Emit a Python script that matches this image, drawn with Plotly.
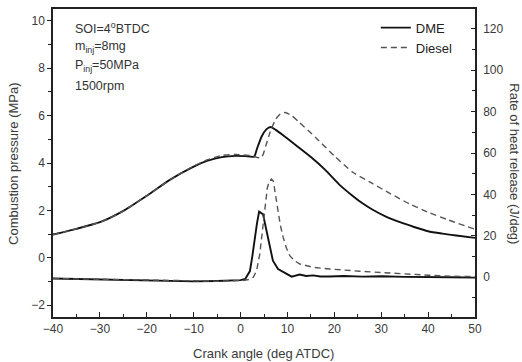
import plotly.graph_objects as go

# ---------------- data ----------------
dme_p_x = [-40, -35, -30, -25, -20, -15, -10, -7, -4, -1, 1, 2.9, 3.5, 4.5, 5.5, 6.4, 7.5,
           9, 12, 15, 18, 21, 24, 26, 28, 31, 34, 37, 40, 43, 46, 50]
dme_p_y = [0.98, 1.22, 1.5, 1.98, 2.62, 3.3, 3.85, 4.1, 4.25, 4.3, 4.29, 4.27, 4.6, 5.12, 5.42, 5.52, 5.4,
           5.18, 4.72, 4.25, 3.72, 3.1, 2.6, 2.3, 2.05, 1.74, 1.5, 1.3, 1.12, 1.02, 0.94, 0.84]

dsl_p_x = [-40, -35, -30, -25, -20, -15, -10, -7, -4, -1, 2, 4.4, 5.5, 6.3, 7.5, 8.5, 9.5,
           11, 12.5, 16, 20, 24, 28, 32, 36, 40, 44, 50]
dsl_p_y = [0.98, 1.22, 1.5, 1.98, 2.62, 3.3, 3.87, 4.14, 4.32, 4.36, 4.32, 4.22, 4.8, 5.3, 5.85, 6.07, 6.13,
           5.98, 5.72, 5.08, 4.3, 3.6, 3.15, 2.7, 2.28, 1.92, 1.62, 1.2]

dme_hrr_x = [-40, -30, -20, -10, -5, 0, 1, 2, 2.5, 3.0, 3.5, 3.96, 4.8, 5.3, 5.9, 6.4, 6.9, 8.0,
             9.4, 10.9, 12.6, 14, 15.5, 17, 19, 22, 26, 30, 35, 40, 45, 50]
dme_hrr_y = [-0.6, -1.0, -1.6, -2.0, -1.8, -1.4, -0.8, 3.0, 10, 19, 26, 31.7, 30.4, 25, 19, 13, 8, 4,
             2.4, 0.3, 1.3, 0.6, 0.9, 0.4, 0.4, 0.6, 0.3, 0.5, 0.2, 0.2, 0.0, -0.2]

dsl_hrr_x = [-40, -30, -20, -10, -5, 0.5, 2, 2.7, 3.4, 4.1, 4.7, 5.2, 5.7, 6.1, 6.6, 7.0, 7.5, 8.0,
             8.5, 9.1, 9.8, 10.5, 11.5, 12.65, 15.5, 19, 25.4, 30, 35, 40, 45, 50]
dsl_hrr_y = [-0.6, -1.0, -1.6, -2.0, -1.9, -1.6, -1.0, 0, 3, 11.2, 24, 35.2, 43, 46.4, 47.5, 46.4, 40, 32,
             25, 19.2, 14, 10.4, 8, 6.4, 4.8, 4.0, 2.9, 2.2, 1.6, 1.0, 0.5, 0.3]

x_ticks = [-40, -30, -20, -10, 0, 10, 20, 30, 40, 50]
p_ticks = [-2, 0, 2, 4, 6, 8, 10]
hrr_ticks = [0, 20, 40, 60, 80, 100, 120]

info_lines = ["SOI=4<sup>o</sup>BTDC", "m<sub>inj</sub>=8mg", "P<sub>inj</sub>=50MPa", "1500rpm"]

# ---------------- figure ----------------
FONT = "Liberation Sans, Arial, sans-serif"
TXT = "#3a3a3a"
solid = dict(color="#111111", width=1.9)
dashed = dict(color="#555555", width=1.4, dash="6px,4px")

fig = go.Figure()
fig.add_trace(go.Scatter(x=dme_p_x, y=dme_p_y, mode="lines", name="DME",
                         line=dict(**solid, shape="spline", smoothing=0.6), yaxis="y"))
fig.add_trace(go.Scatter(x=dsl_p_x, y=dsl_p_y, mode="lines", name="Diesel",
                         line=dict(**dashed, shape="spline", smoothing=0.6), yaxis="y"))
fig.add_trace(go.Scatter(x=dme_hrr_x, y=dme_hrr_y, mode="lines", showlegend=False, line=solid, yaxis="y2"))
fig.add_trace(go.Scatter(x=dsl_hrr_x, y=dsl_hrr_y, mode="lines", showlegend=False, line=dashed, yaxis="y2"))

axcommon = dict(showgrid=False, zeroline=False, showline=True, linecolor="#222222", linewidth=1.5,
                tickcolor="#222222", tickfont=dict(family=FONT, size=12, color=TXT))

fig.update_layout(
    width=522, height=362,
    margin=dict(l=53, r=47, t=7, b=45),
    paper_bgcolor="white", plot_bgcolor="white",
    font=dict(family=FONT, color=TXT),
    xaxis=dict(range=[-40, 50], tickvals=x_ticks, ticks="inside", ticklen=5, tickwidth=1.3,
               mirror=True, minor=dict(dtick=5, tick0=0, ticks="inside", ticklen=3, tickcolor="#222222"),
               **axcommon),
    yaxis=dict(range=[-2.5, 10.5], tickvals=p_ticks, ticks="outside", ticklen=4, tickwidth=1.3,
               minor=dict(dtick=1, tick0=0, ticks="outside", ticklen=3, tickcolor="#222222"),
               **axcommon),
    yaxis2=dict(range=[-19.2, 129.6], tickvals=hrr_ticks, overlaying="y", side="right",
                ticks="inside", ticklen=4, tickwidth=1.3, ticklabelstandoff=4,
                minor=dict(dtick=10, tick0=0, ticks="inside", ticklen=3, tickcolor="#222222"),
                **axcommon),
    legend=dict(x=0.765, y=0.988, xanchor="left", yanchor="top", bgcolor="rgba(0,0,0,0)",
                font=dict(family=FONT, size=13, color="#222222"), tracegroupgap=0, itemwidth=30),
    showlegend=True,
)

ann = []
ys = [26, 45, 64, 84]
for t, py in zip(info_lines, ys):
    ann.append(dict(text=t, xref="paper", yref="paper", x=(73 - 53.3) / 421.7, y=(316.7 - py) / 310,
                    xanchor="left", yanchor="middle", showarrow=False,
                    font=dict(family=FONT, size=12.5, color="#333333")))
ann.append(dict(text="Combustion pressure (MPa)", xref="paper", yref="paper",
                x=(14 - 53.3) / 421.7, y=(316.7 - 162) / 310, textangle=-90,
                xanchor="center", yanchor="middle", showarrow=False,
                font=dict(family=FONT, size=13, color=TXT)))
ann.append(dict(text="Rate of heat release (J/deg)", xref="paper", yref="paper",
                x=(515 - 53.3) / 421.7, y=(316.7 - 162) / 310, textangle=90,
                xanchor="center", yanchor="middle", showarrow=False,
                font=dict(family=FONT, size=13, color=TXT)))
ann.append(dict(text="Crank angle (deg ATDC)", xref="paper", yref="paper",
                x=(264 - 53.3) / 421.7, y=(316.7 - 353) / 310,
                xanchor="center", yanchor="middle", showarrow=False,
                font=dict(family=FONT, size=13, color=TXT)))
fig.update_layout(annotations=ann)

fig.write_html("out.html", config={"displayModeBar": False},
               post_script="document.body.style.margin='0';document.body.style.overflow='hidden';")
